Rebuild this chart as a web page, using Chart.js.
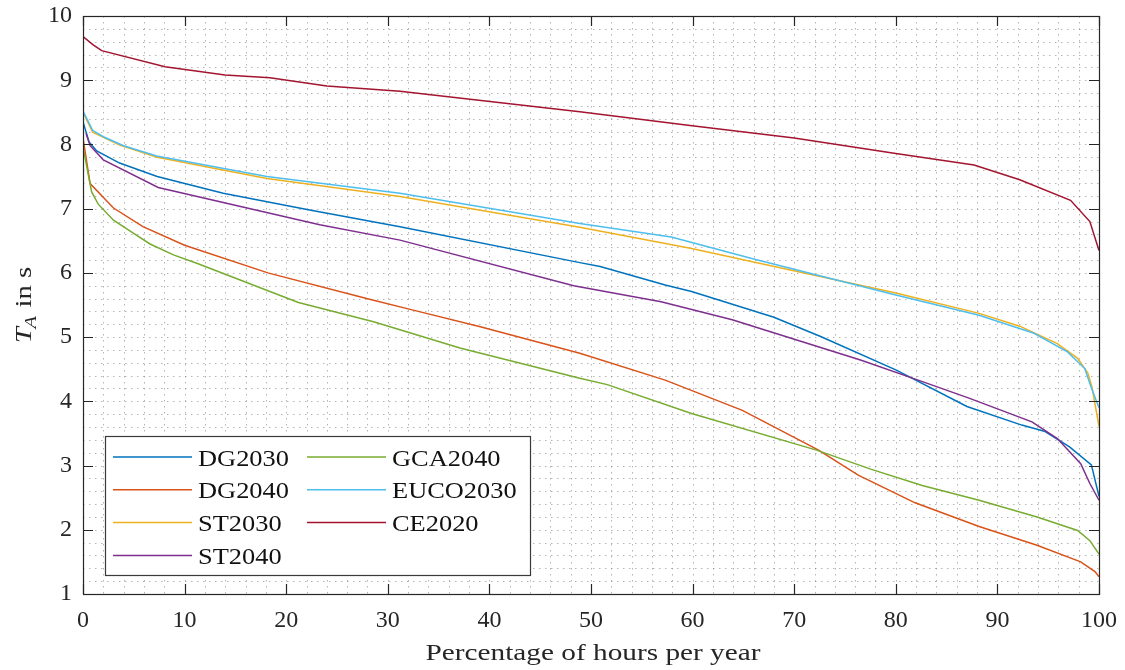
<!DOCTYPE html>
<html><head><meta charset="utf-8">
<script src="https://cdn.jsdelivr.net/npm/chart.js@4"></script>
<style>html,body{margin:0;padding:0;background:#fff}</style>
</head><body>
<canvas id="c" width="1125" height="670"></canvas>
<script>
// ---- data ----
const xTicks = [0,10,20,30,40,50,60,70,80,90,100];
const yTicks = [1,2,3,4,5,6,7,8,9,10];

const dg2030X = [0, 0.6, 1.35, 3.6, 7.3, 13.8, 22.3, 31.2, 48.9, 50.9, 57.3, 59.9, 68.0, 72.6, 80.0, 87.0, 92.4, 94.7, 97.1, 99.25, 100];
const dg2030Y = [8.35, 8.04, 7.90, 7.71, 7.50, 7.24, 6.98, 6.72, 6.16, 6.10, 5.81, 5.71, 5.31, 5.01, 4.49, 3.92, 3.63, 3.53, 3.29, 3.01, 2.52];

const dg2040X = [0, 0.7, 3.0, 5.9, 10.0, 18.2, 28.2, 32.5, 39.1, 48.9, 57.3, 64.9, 72.4, 76.3, 81.9, 88.2, 93.9, 98.2, 99.6, 100];
const dg2040Y = [8.10, 7.39, 7.01, 6.72, 6.43, 6.00, 5.59, 5.42, 5.16, 4.75, 4.33, 3.86, 3.24, 2.85, 2.42, 2.05, 1.76, 1.50, 1.35, 1.27];

const st2030X = [0, 0.95, 3.6, 7.3, 18.1, 31.2, 48.9, 59.9, 79.9, 88.2, 92.2, 95.9, 97.9, 98.9, 99.3, 100];
const st2030Y = [8.50, 8.19, 7.99, 7.80, 7.47, 7.19, 6.71, 6.38, 5.69, 5.37, 5.17, 4.90, 4.67, 4.44, 4.23, 3.61];

const st2040X = [0.3, 0.7, 2.0, 7.4, 23.3, 31.2, 48.3, 56.9, 63.9, 76.6, 82.2, 87.2, 93.4, 95.9, 98.2, 99.1, 100];
const st2040Y = [8.17, 7.98, 7.76, 7.33, 6.75, 6.51, 5.80, 5.55, 5.27, 4.64, 4.33, 4.05, 3.68, 3.42, 3.03, 2.72, 2.46];

const gca2040X = [0, 0.85, 1.5, 3.0, 4.95, 6.6, 8.9, 11.2, 21.2, 28.6, 37.1, 48.9, 51.6, 59.9, 72.2, 77.6, 82.6, 88.2, 93.9, 97.9, 99.1, 100];
const gca2040Y = [7.96, 7.26, 7.07, 6.82, 6.62, 6.45, 6.28, 6.15, 5.54, 5.24, 4.83, 4.36, 4.26, 3.81, 3.24, 2.94, 2.69, 2.46, 2.20, 1.99, 1.83, 1.62];

const euco2030X = [0, 0.95, 2.0, 4.0, 7.25, 18.1, 31.2, 48.9, 57.9, 66.2, 79.9, 88.2, 93.6, 96.9, 98.6, 99.2, 100];
const euco2030Y = [8.52, 8.22, 8.12, 7.98, 7.82, 7.50, 7.24, 6.77, 6.56, 6.21, 5.66, 5.34, 5.06, 4.77, 4.51, 4.23, 3.90];

const ce2020X = [0, 1.0, 1.84, 8.07, 13.98, 18.4, 24.0, 31.2, 48.9, 59.95, 70.0, 80.0, 87.7, 92.2, 97.2, 99.1, 100];
const ce2020Y = [9.68, 9.55, 9.46, 9.21, 9.08, 9.04, 8.91, 8.83, 8.51, 8.29, 8.10, 7.86, 7.68, 7.45, 7.13, 6.80, 6.35];

const seriesNames = ['DG2030','DG2040','ST2030','ST2040','GCA2040','EUCO2030','CE2020'];
const seriesX = [dg2030X, dg2040X, st2030X, st2040X, gca2040X, euco2030X, ce2020X];
const seriesY = [dg2030Y, dg2040Y, st2030Y, st2040Y, gca2040Y, euco2030Y, ce2020Y];
const seriesColors = ['#0072BD','#D95319','#EDB120','#7E2F8E','#77AC30','#4DBEEE','#A2142F'];

const xTitle = 'Percentage of hours per year';

// ---- styling ----
const FONT = "'Liberation Serif','Times New Roman',serif";
const AX = '#262626';

const datasets = seriesNames.map((n, i) => ({
  label: n,
  data: seriesX[i].map((x, k) => ({x, y: seriesY[i][k]})),
  borderColor: seriesColors[i],
  backgroundColor: seriesColors[i],
  borderWidth: 1.5,
  pointRadius: 0,
  tension: 0,
  fill: false,
  order: seriesNames.length - i
}));

function stretchText(ctx, txt, x, y, sx) {
  ctx.save(); ctx.translate(x, y); ctx.scale(sx, 1); ctx.fillText(txt, 0, 0); ctx.restore();
}

const framePlugin = {
  id: 'frame',
  beforeDatasetsDraw(chart) {
    const {ctx, chartArea: a, scales: {x, y}} = chart;
    ctx.save();
    ctx.strokeStyle = 'rgba(120,120,120,0.55)';
    ctx.lineWidth = 1;
    ctx.setLineDash([1.5, 4.5]);
    for (let i = 1; i < 50; i++) {
      const px = Math.round(x.getPixelForValue(i * 2)) + 0.5;
      ctx.beginPath(); ctx.moveTo(px, a.top); ctx.lineTo(px, a.bottom); ctx.stroke();
    }
    for (let i = 1; i < 45; i++) {
      const py = Math.round(y.getPixelForValue(1 + i * 0.2)) + 0.5;
      ctx.beginPath(); ctx.moveTo(a.left, py); ctx.lineTo(a.right, py); ctx.stroke();
    }
    ctx.restore();
  },
  afterDatasetsDraw(chart) {
    const {ctx, chartArea: a, scales: {x, y}} = chart;
    ctx.save();
    ctx.strokeStyle = AX; ctx.lineWidth = 1.2; ctx.setLineDash([]);
    ctx.strokeRect(Math.round(a.left) + 0.5, Math.round(a.top) + 0.5,
                   Math.round(a.right - a.left), Math.round(a.bottom - a.top));
    const tl = 10;
    ctx.beginPath();
    xTicks.forEach(v => {
      const px = Math.round(x.getPixelForValue(v)) + 0.5;
      ctx.moveTo(px, a.bottom); ctx.lineTo(px, a.bottom - tl);
      ctx.moveTo(px, a.top); ctx.lineTo(px, a.top + tl);
    });
    yTicks.forEach(v => {
      const py = Math.round(y.getPixelForValue(v)) + 0.5;
      ctx.moveTo(a.left, py); ctx.lineTo(a.left + tl, py);
      ctx.moveTo(a.right, py); ctx.lineTo(a.right - tl, py);
    });
    ctx.stroke();

    // legend
    const lx = a.left + 22, ly = a.bottom - 158, lw = 425, lh = 139;
    ctx.fillStyle = '#fff';
    ctx.fillRect(lx, ly, lw, lh);
    ctx.strokeStyle = '#3a3a3a'; ctx.lineWidth = 1.2;
    ctx.strokeRect(lx + 0.5, ly + 0.5, lw, lh);
    ctx.font = '24px ' + FONT;
    ctx.textBaseline = 'alphabetic';
    ctx.textAlign = 'left';
    chart.data.datasets.forEach((ds, i) => {
      const col = i < 4 ? 0 : 1;
      const row = i < 4 ? i : i - 4;
      const cx = lx + (col === 0 ? 8 : 202);
      const cy = ly + 21 + row * 32.8;
      ctx.strokeStyle = ds.borderColor; ctx.lineWidth = 1.5;
      ctx.beginPath(); ctx.moveTo(cx, cy); ctx.lineTo(cx + 79, cy); ctx.stroke();
      ctx.fillStyle = '#111';
      stretchText(ctx, ds.label, cx + 85, cy + 8.5, 1.1);
    });

    // x title
    ctx.fillStyle = AX;
    ctx.font = '24px ' + FONT;
    ctx.textAlign = 'left';
    const xw = ctx.measureText(xTitle).width * 1.22;
    stretchText(ctx, xTitle, (a.left + a.right) / 2 - xw / 2 + 2, 660, 1.22);

    // y title: T_A in s
    ctx.save();
    ctx.translate(31, (a.top + a.bottom) / 2);
    ctx.rotate(-Math.PI / 2);
    ctx.scale(1.2, 1);
    ctx.font = 'italic 24px ' + FONT;
    const wT = ctx.measureText('T').width;
    ctx.font = 'italic 17px ' + FONT;
    const wA = ctx.measureText('A').width;
    ctx.font = '24px ' + FONT;
    const wR = ctx.measureText(' in s').width;
    let sx = -(wT + wA + wR) / 2;
    ctx.font = 'italic 24px ' + FONT; ctx.fillText('T', sx, 0); sx += wT - 1;
    ctx.font = 'italic 17px ' + FONT; ctx.fillText('A', sx, 5); sx += wA + 1;
    ctx.font = '24px ' + FONT; ctx.fillText(' in s', sx, 0);
    ctx.restore();
    ctx.restore();
  }
};

new Chart(document.getElementById('c'), {
  type: 'line',
  data: { datasets },
  options: {
    responsive: false,
    animation: false,
    devicePixelRatio: 1,
    layout: { padding: { left: 0, right: 26, top: 16, bottom: 0 } },
    plugins: { legend: { display: false }, tooltip: { enabled: false } },
    scales: {
      x: {
        type: 'linear', min: 0, max: 100,
        afterBuildTicks: s => { s.ticks = xTicks.map(v => ({value: v})); },
        afterFit: s => { s.height = 76; s.paddingLeft = 0; s.paddingRight = 0; },
        grid: { display: false, drawTicks: false },
        border: { display: false },
        ticks: { font: { family: FONT, size: 24 }, color: AX, padding: 12, maxRotation: 0, autoSkip: false }
      },
      y: {
        type: 'linear', min: 1, max: 10,
        afterBuildTicks: s => { s.ticks = yTicks.map(v => ({value: v})); },
        afterFit: s => { s.width = 83; s.paddingTop = 0; s.paddingBottom = 0; },
        grid: { display: false, drawTicks: false },
        border: { display: false },
        ticks: { font: { family: FONT, size: 24 }, color: AX, padding: 11, autoSkip: false }
      }
    }
  },
  plugins: [framePlugin]
});
</script>
</body></html>
